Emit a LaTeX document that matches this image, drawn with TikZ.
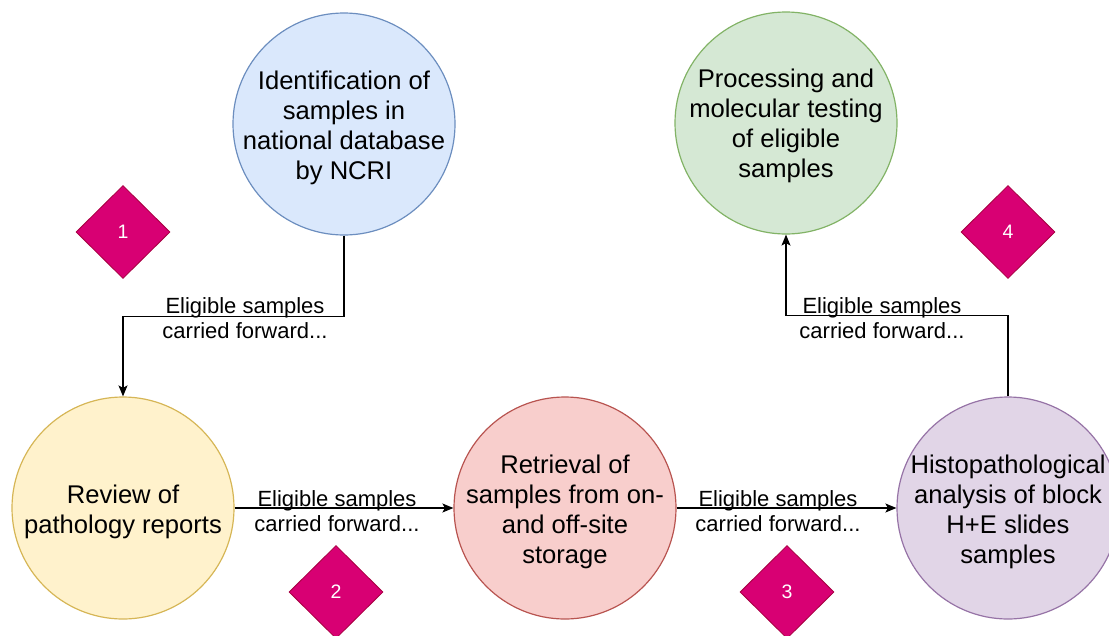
\documentclass[tikz,border=0pt]{standalone}
\usepackage{fontspec}
\setmainfont{Liberation Sans}
\usetikzlibrary{shapes.geometric,arrows.meta}
\definecolor{bluefill}{HTML}{DAE8FC}\definecolor{bluedraw}{HTML}{6C8EBF}
\definecolor{greenfill}{HTML}{D5E8D4}\definecolor{greendraw}{HTML}{82B366}
\definecolor{yellowfill}{HTML}{FFF2CC}\definecolor{yellowdraw}{HTML}{D6B656}
\definecolor{redfill}{HTML}{F8CECC}\definecolor{reddraw}{HTML}{B85450}
\definecolor{purplefill}{HTML}{E1D5E7}\definecolor{purpledraw}{HTML}{9673A6}
\definecolor{magfill}{HTML}{D80073}\definecolor{magdraw}{HTML}{A50040}
\begin{document}
\begin{tikzpicture}[x=1pt,y=-1pt,
  stage/.style={circle,minimum size=222pt,inner sep=0pt,line width=1.2pt},
  stagetext/.style={align=center,inner sep=0pt,font=\fontsize{25.6}{30}\selectfont},
  badge/.style={diamond,minimum width=94pt,minimum height=93pt,inner sep=0pt,
    fill=magfill,draw=magdraw,line width=0.8pt,text=white,font=\fontsize{19.5}{21}\selectfont},
  conn/.style={draw=black,line width=1.3pt,-{Stealth[length=11pt,width=9pt,inset=2.5pt]}},
  elabel/.style={align=center,inner sep=0pt,font=\fontsize{22}{25.3}\selectfont}]
\useasboundingbox (0,0) rectangle (1109,635);
\node[stage,fill=bluefill,draw=bluedraw] (blue) at (344,124) {};
\node[stage,fill=greenfill,draw=greendraw] (green) at (786,123) {};
\node[stage,fill=yellowfill,draw=yellowdraw] (yellow) at (123,508) {};
\node[stage,fill=redfill,draw=reddraw] (red) at (565,508) {};
\node[stage,fill=purplefill,draw=purpledraw] (purple) at (1008,508) {};
\node[stagetext] (bluet) at ([yshift=-4pt]blue.center) {Identification of\\samples in\\national database\\by NCRI};
\node[stagetext] (greent) at ([yshift=-3pt]green.center) {Processing and\\molecular testing\\of eligible\\samples};
\node[stagetext] (yellowt) at ([yshift=-4pt]yellow.center) {Review of\\pathology reports};
\node[stagetext] (redt) at ([yshift=-4pt]red.center) {Retrieval of\\samples from on-\\and off-site\\storage};
\node[stagetext] (purplet) at ([yshift=-4pt]purple.center) {Histopathological\\analysis of block\\H+E slides\\samples};
\node[badge] (d1) at (123,232) {1};
\node[badge] (d2) at (336,592) {2};
\node[badge] (d3) at (787,592) {3};
\node[badge] (d4) at (1008,232) {4};
\draw[conn] (blue.south) -- ++(0,81) -| (yellow.north);
\draw[conn] (yellow.east) -- (red.west);
\draw[conn] (red.east) -- (purple.west);
\draw[conn] (purple.north) -- ++(0,-81) -| (green.south);
\node[elabel] (l1) at (245,318) {Eligible samples\\carried forward...};
\node[elabel] (l2) at (337,511) {Eligible samples\\carried forward...};
\node[elabel] (l3) at (778,511) {Eligible samples\\carried forward...};
\node[elabel] (l4) at (882,318) {Eligible samples\\carried forward...};
\end{tikzpicture}
\end{document}
